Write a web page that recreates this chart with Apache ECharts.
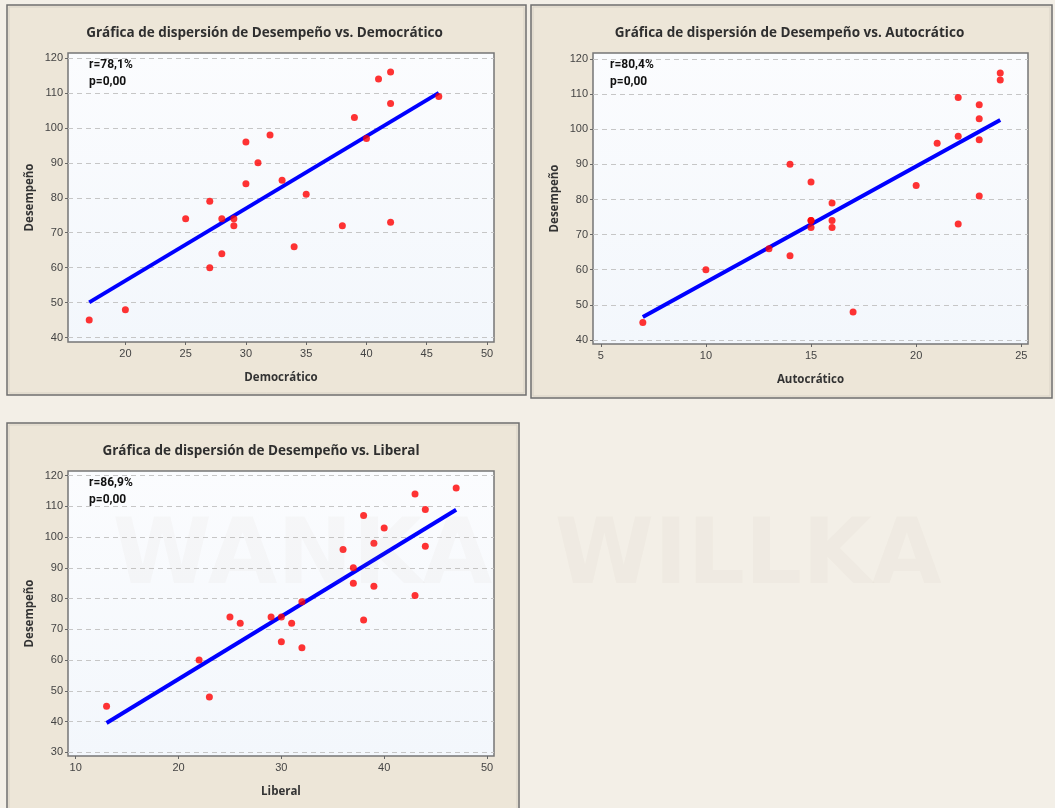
<!DOCTYPE html>
<html>
<head>
<meta charset="utf-8">
<script src="https://cdn.jsdelivr.net/npm/echarts@6/dist/echarts.min.js"></script>
<style>
html,body{margin:0;padding:0;background:#f3efe7;}
#c{width:1055px;height:808px;}
</style>
</head>
<body>
<div id="c"></div>
<script>
// ---- Data ----
const democratico   = [17,20,25,27,27,28,28,29,29,30,30,31,32,33,34,35,38,39,40,41,42,42,42,46];
const desempenoDem  = [45,48,74,79,60,74,64,74,72,96,84,90,98,85,66,81,72,103,97,114,116,107,73,109];
const autocratico   = [7,10,13,14,14,15,15,15,15,16,16,16,17,20,21,22,22,22,23,23,23,23,24,24];
const desempenoAut  = [45,60,66,90,64,85,74,74,72,79,74,72,48,84,96,109,98,73,107,103,97,81,116,114];
const liberal       = [13,22,23,25,26,29,30,30,31,32,32,36,37,37,38,38,39,39,40,43,43,44,44,47];
const desempenoLib  = [45,60,48,74,72,74,74,66,72,79,64,96,90,85,107,73,98,84,103,114,81,109,97,116];

const demTicks = [20,25,30,35,40,45,50];
const autTicks = [5,10,15,20,25];
const libTicks = [10,20,30,40,50];
const yTicksTop = [40,50,60,70,80,90,100,110,120];
const yTicksBottom = [30,40,50,60,70,80,90,100,110,120];

const titles = [
  'Gráfica de dispersión de Desempeño vs. Democrático',
  'Gráfica de dispersión de Desempeño vs. Autocrático',
  'Gráfica de dispersión de Desempeño vs. Liberal'
];
const xNames = ['Democrático','Autocrático','Liberal'];
const yName = 'Desempeño';
const rTexts = ['r=78,1%','r=80,4%','r=86,9%'];
const pText = 'p=0,00';

// ---- Layout ----
const panels = [
  {frame:[7,5,519,390],  grid:{left:68, top:53, width:426, height:289}, xr:[15.24,50.58], yr:[38.74,121.43]},
  {frame:[531,5,521,393],grid:{left:593,top:53, width:435, height:291}, xr:[4.63,25.32],  yr:[38.86,121.7]},
  {frame:[7,423,512,400],grid:{left:68, top:471,width:426, height:285}, xr:[9.25,50.68],  yr:[28.8,121.5]}
];
const xs = [democratico, autocratico, liberal];
const ys = [desempenoDem, desempenoAut, desempenoLib];
const xTicks = [demTicks, autTicks, libTicks];
const yTicks = [yTicksTop, yTicksTop, yTicksBottom];

function fit(x, y){
  const n = x.length;
  const mx = x.reduce((a,b)=>a+b,0)/n, my = y.reduce((a,b)=>a+b,0)/n;
  let sxy=0, sxx=0;
  for(let i=0;i<n;i++){ sxy += (x[i]-mx)*(y[i]-my); sxx += (x[i]-mx)*(x[i]-mx); }
  const b = sxy/sxx, a = my - b*mx;
  const x0 = Math.min(...x), x1 = Math.max(...x);
  return [[x0, a+b*x0],[x1, a+b*x1]];
}

const labelFont = {color:'#444', fontSize:11, fontFamily:'"Liberation Sans", Arial, sans-serif'};
const nameFont = {color:'#333', fontSize:11.5, fontWeight:'bold', fontFamily:'"Open Sans", sans-serif'};

const grid=[], xAxis=[], yAxis=[], series=[], graphic=[];

panels.forEach((p,i)=>{
  const [fx,fy,fw,fh] = p.frame;
  graphic.push({type:'rect', z:-10, shape:{x:fx,y:fy,width:fw,height:fh},
    style:{fill:'#ede6d8', stroke:'#6f6f6f', lineWidth:1.5}, silent:true});
  graphic.push({type:'rect', z:-9, shape:{x:fx+2,y:fy+2,width:fw-4,height:fh-4},
    style:{fill:'none', stroke:'#d8d2c6', lineWidth:1}, silent:true});
  const g = p.grid;
  graphic.push({type:'text', z:10, silent:true, style:{
    text: titles[i], x: fx + fw/2 - 2, y: fy + 28,
    font:'bold 13.5px "Open Sans", sans-serif', fill:'#2f2f2f',
    align:'center', verticalAlign:'middle', textAlign:'center', textVerticalAlign:'middle'}});
  graphic.push({type:'text', z:10, silent:true, style:{
    text: rTexts[i], x: g.left + 21 + (i===1?-4:0), y: g.top + 12,
    font:'bold 12px Roboto, sans-serif', fill:'#111',
    align:'left', verticalAlign:'middle', textAlign:'left', textVerticalAlign:'middle'}});
  graphic.push({type:'text', z:10, silent:true, style:{
    text: pText, x: g.left + 21 + (i===1?-4:0), y: g.top + 29,
    font:'bold 12px Roboto, sans-serif', fill:'#111',
    align:'left', verticalAlign:'middle', textAlign:'left', textVerticalAlign:'middle'}});

  grid.push({left:g.left, top:g.top, width:g.width, height:g.height, show:true,
    backgroundColor:{type:'linear',x:0,y:0,x2:0,y2:1,colorStops:[{offset:0,color:'#fbfcfe'},{offset:1,color:'#f3f7fc'}]},
    borderColor:'#767676', borderWidth:1.5});
  xAxis.push({gridIndex:i, type:'value', min:p.xr[0], max:p.xr[1],
    name:xNames[i], nameLocation:'middle', nameGap:30, nameTextStyle:nameFont,
    axisLine:{show:false}, splitLine:{show:false},
    axisTick:{show:true, inside:false, length:3, customValues:xTicks[i], lineStyle:{color:'#666'}},
    axisLabel:Object.assign({customValues:xTicks[i], margin:6}, labelFont)});
  yAxis.push({gridIndex:i, type:'value', min:p.yr[0], max:p.yr[1],
    name:yName, nameLocation:'middle', nameGap:32, nameRotate:90, nameTextStyle:nameFont,
    axisLine:{show:false}, splitLine:{show:false},
    axisTick:{show:true, inside:false, length:3, customValues:yTicks[i], lineStyle:{color:'#666'}},
    axisLabel:Object.assign({customValues:yTicks[i], margin:5}, labelFont)});

  // dashed reference lines at the y ticks (drawn beneath the data)
  series.push({type:'scatter', xAxisIndex:i, yAxisIndex:i, data:[], z:1, silent:true,
    markLine:{silent:true, symbol:['none','none'], label:{show:false}, z:1,
      lineStyle:{type:[5,4], color:'#c6c6c6', width:1},
      data: yTicks[i].map(v=>({yAxis:v}))}});
  series.push({type:'line', xAxisIndex:i, yAxisIndex:i, data:fit(xs[i], ys[i]),
    showSymbol:false, symbol:'none', lineStyle:{color:'#0000ff', width:4}, silent:true, z:3});
  series.push({type:'scatter', xAxisIndex:i, yAxisIndex:i,
    data: xs[i].map((v,k)=>[v, ys[i][k]]),
    symbol:'circle', symbolSize:7, itemStyle:{color:'#ff0000'}, z:4});
});

// faint watermark
graphic.push({type:'text', z:20, silent:true, style:{
  text:'WANKA  WILLKA', x:527, y:560, font:'bold 90px "DejaVu Sans", sans-serif',
  fill:'rgba(170,150,140,0.05)', align:'center', verticalAlign:'middle', textAlign:'center', textVerticalAlign:'middle'}});

const chart = echarts.init(document.getElementById('c'), null, {renderer:'canvas'});
chart.setOption({
  backgroundColor:'#f3efe7',
  animation:false,
  grid, xAxis, yAxis, series, graphic
});
</script>
</body>
</html>
